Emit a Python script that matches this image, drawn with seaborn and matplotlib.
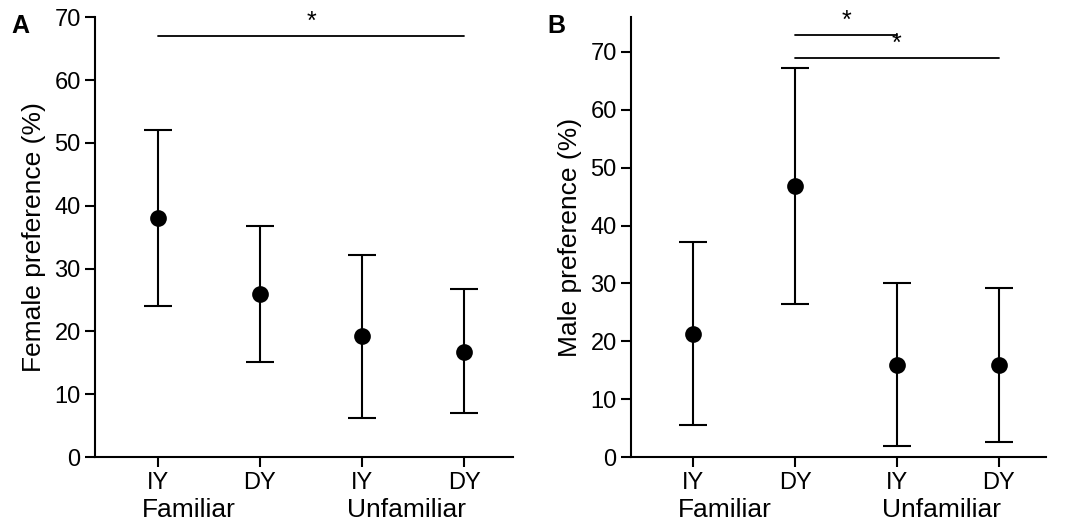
import pandas as pd
import numpy as np
import matplotlib.pyplot as plt
import seaborn as sns

sns.set_theme(style="ticks")
plt.rcParams['font.family'] = ['Liberation Sans', 'DejaVu Sans']

categories = ["Familiar IY", "Familiar DY", "Unfamiliar IY", "Unfamiliar DY"]
tick_labels = ["IY", "DY", "IY", "DY"]
groups = ["Familiar", "Unfamiliar"]

female_mean = [38.0, 26.0, 19.2, 16.8]
female_low = [24.0, 15.2, 6.2, 7.0]
female_high = [52.0, 36.8, 32.2, 26.7]

male_mean = [21.3, 46.8, 16.0, 16.0]
male_low = [5.5, 26.4, 1.9, 2.6]
male_high = [37.1, 67.3, 30.1, 29.2]

# significance brackets: (from, to, height)
female_sig = [(0, 3, 67)]
male_sig = [(1, 2, 73), (1, 3, 69)]

fig = plt.figure(figsize=(10.7, 5.23), dpi=100)
axA = fig.add_axes([0.089, 0.126, 0.390, 0.841])
axB = fig.add_axes([0.590, 0.126, 0.388, 0.841])


def draw(ax, mean, low, high, sig, ylabel, ymax, yticks, letter):
    df = pd.DataFrame({"cond": categories, "val": mean})
    sns.pointplot(data=df, x="cond", y="val", order=categories, ax=ax,
                  color="black", linestyle="none", errorbar=None,
                  markers="o", markersize=10)
    xs = np.arange(len(categories))
    m = np.array(mean)
    ax.errorbar(xs, m, yerr=[m - np.array(low), np.array(high) - m],
                fmt="none", ecolor="black", elinewidth=1.5, capsize=10,
                capthick=1.5, zorder=1)
    ax.set_xlim(-0.61, 3.47)
    ax.set_ylim(0, ymax)
    ax.set_yticks(yticks)
    ax.set_xticks(xs)
    ax.set_xticklabels(tick_labels)
    ax.tick_params(axis="both", labelsize=17, width=1.5, length=7,
                   color="black", labelcolor="black")
    ax.set_xlabel("")
    ax.set_ylabel(ylabel, fontsize=19, color="black", labelpad=6)
    for s in ["left", "bottom"]:
        ax.spines[s].set_linewidth(1.5)
        ax.spines[s].set_color("black")
    sns.despine(ax=ax)
    for a, b, h in sig:
        ax.plot([a, b], [h, h], color="black", lw=1.3, clip_on=False)
        ax.text((a + b) / 2, h + 0.3, "*", ha="center", va="bottom",
                fontsize=18, color="black")
    for gi, g in enumerate(groups):
        ax.text(gi * 2 - 0.15, -0.136, g, transform=ax.get_xaxis_transform(),
                ha="left", va="baseline", fontsize=19, color="black")
    ax.text(-0.18, 0.98, letter, transform=ax.transAxes, fontsize=18,
            fontweight="bold", ha="center", va="center", color="black")


draw(axA, female_mean, female_low, female_high, female_sig,
     "Female preference (%)", 70, range(0, 71, 10), "A")
draw(axB, male_mean, male_low, male_high, male_sig,
     "Male preference (%)", 76, range(0, 71, 10), "B")

fig.savefig("out.png", dpi=100)
